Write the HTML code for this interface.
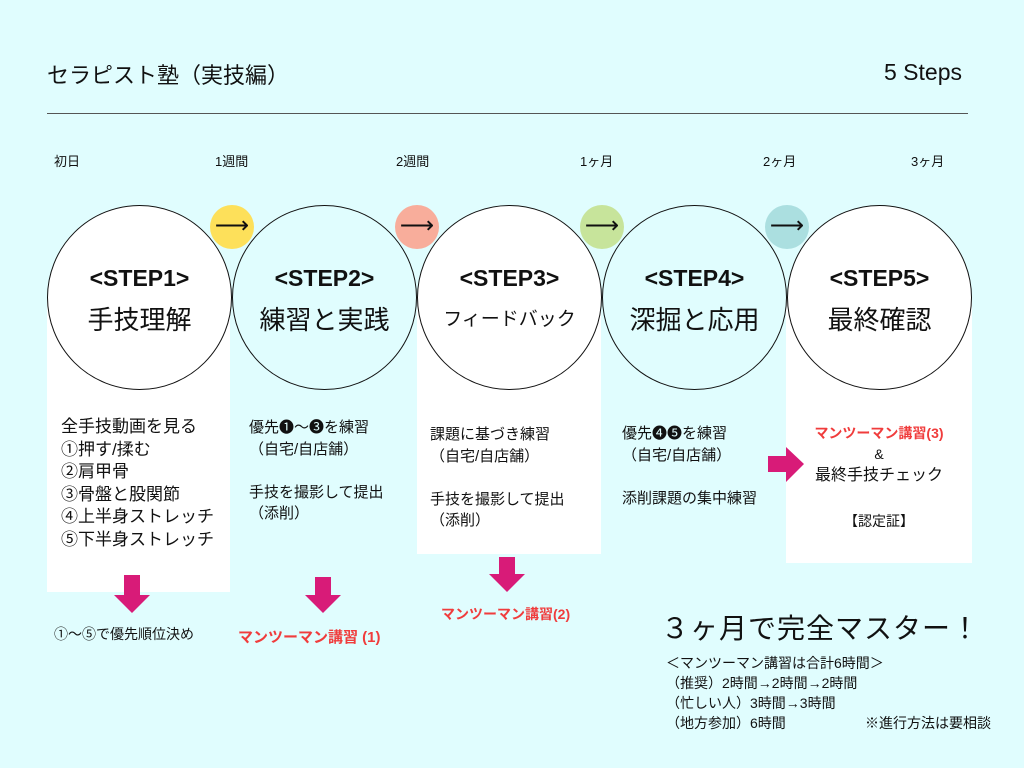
<!DOCTYPE html>
<html><head><meta charset="utf-8"><style>
body{margin:0;width:1024px;height:768px;background:#e0fdfe;position:relative;overflow:hidden;font-family:"Liberation Sans","Noto Sans CJK JP",sans-serif;color:#111}
.a{position:absolute;white-space:nowrap}
.box{position:absolute;background:#fff}
.c{position:absolute;width:183px;height:183px;border:1px solid #111;border-radius:50%;top:205px}
.s{position:absolute;width:44px;height:44px;border-radius:50%;top:205px;text-align:center;line-height:42px;font-size:24px}
.st{position:absolute;width:185px;text-align:center;top:265px;font-size:23px;font-weight:bold}
.sub{position:absolute;width:185px;text-align:center;top:300px;font-size:26px}
.t{font-size:13px}
.red{color:#f03c3c;font-weight:bold;font-size:14px}
</style></head><body>
<div class="a" style="left:47px;top:58px;font-size:22px">セラピスト塾（実技編）</div>
<div class="a" style="left:884px;top:59px;font-size:23px">5 Steps</div>
<div class="a" style="left:47px;top:113px;width:921px;height:1px;background:#555"></div>
<div class="a t" style="left:54px;top:151px">初日</div>
<div class="a t" style="left:215px;top:151px">1週間</div>
<div class="a t" style="left:396px;top:151px">2週間</div>
<div class="a t" style="left:580px;top:151px">1ヶ月</div>
<div class="a t" style="left:763px;top:151px">2ヶ月</div>
<div class="a t" style="left:911px;top:151px">3ヶ月</div>

<div class="box" style="left:47px;top:297px;width:183px;height:295px"></div>
<div class="box" style="left:417px;top:297px;width:184px;height:257px"></div>
<div class="box" style="left:786px;top:297px;width:186px;height:266px"></div>

<div class="c" style="left:47px;background:#fff"></div>
<div class="c" style="left:232px;background:#e0fdfe"></div>
<div class="c" style="left:417px;background:#fff"></div>
<div class="c" style="left:602px;background:#e0fdfe"></div>
<div class="c" style="left:787px;background:#fff"></div>

<div class="s" style="left:210px;background:#fde05a">⟶</div>
<div class="s" style="left:395px;background:#f8ad9b">⟶</div>
<div class="s" style="left:580px;background:#c7e49b">⟶</div>
<div class="s" style="left:765px;background:#abdfe0">⟶</div>

<div class="st" style="left:47px">&lt;STEP1&gt;</div><div class="sub" style="left:47px">手技理解</div>
<div class="st" style="left:232px">&lt;STEP2&gt;</div><div class="sub" style="left:232px">練習と実践</div>
<div class="st" style="left:417px">&lt;STEP3&gt;</div><div class="sub" style="left:417px;font-size:19px;top:304px">フィードバック</div>
<div class="st" style="left:602px">&lt;STEP4&gt;</div><div class="sub" style="left:602px">深掘と応用</div>
<div class="st" style="left:787px">&lt;STEP5&gt;</div><div class="sub" style="left:787px">最終確認</div>

<div class="a" style="left:61px;top:416px;font-size:17px;line-height:22.5px">全手技動画を見る<br>①押す/揉む<br>②肩甲骨<br>③骨盤と股関節<br>④上半身ストレッチ<br>⑤下半身ストレッチ</div>
<div class="a" style="left:249px;top:417px;font-size:15px;line-height:21.5px">優先❶～❸を練習<br>（自宅/自店舗）<br><br>手技を撮影して提出<br>（添削）</div>
<div class="a" style="left:430px;top:424px;font-size:15px;line-height:21.5px">課題に基づき練習<br>（自宅/自店舗）<br><br>手技を撮影して提出<br>（添削）</div>
<div class="a" style="left:622px;top:423px;font-size:15px;line-height:21.5px">優先❹❺を練習<br>（自宅/自店舗）<br><br>添削課題の集中練習</div>
<div class="a" style="left:786px;top:423px;width:186px;text-align:center;font-size:14px;line-height:21px"><span class="red">マンツーマン講習(3)</span><br>&amp;<br><span style="font-size:16px">最終手技チェック</span></div>
<div class="a" style="left:786px;top:511px;width:186px;text-align:center;font-size:14px">【認定証】</div>

<svg class="a" style="left:0;top:0" width="1024" height="768">
<g fill="#d81b78">
<polygon points="124,575 140,575 140,595 150,595 132,613 114,595 124,595"/>
<polygon points="315,577 331,577 331,595 341,595 323,613 305,595 315,595"/>
<polygon points="499,557 515,557 515,574 525,574 507,592 489,574 499,574"/>
<polygon points="768,456 786,456 786,447 804,464 786,482 786,472 768,472"/>
</g></svg>

<div class="a" style="left:54px;top:624px;font-size:14px">①～⑤で優先順位決め</div>
<div class="a red" style="left:238px;top:626px;font-size:15px">マンツーマン講習 (1)</div>
<div class="a red" style="left:441px;top:604px">マンツーマン講習(2)</div>

<div class="a" style="left:661px;top:607px;font-size:28px;letter-spacing:1px">３ヶ月で完全マスター！</div>
<div class="a" style="left:666px;top:653px;font-size:14px;line-height:20px">＜マンツーマン講習は合計6時間＞<br>（推奨）2時間→2時間→2時間<br>（忙しい人）3時間→3時間<br>（地方参加）6時間</div>
<div class="a" style="left:865px;top:713px;font-size:14px">※進行方法は要相談</div>
</body></html>
